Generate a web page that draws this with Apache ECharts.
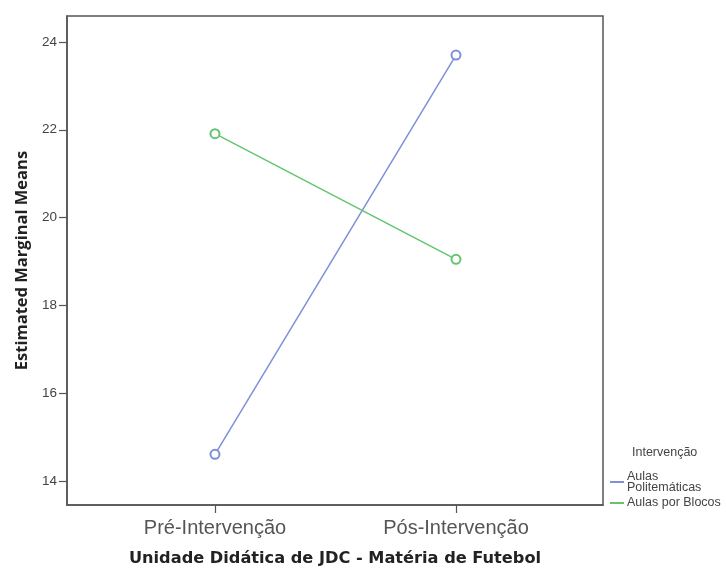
<!DOCTYPE html>
<html><head><meta charset="utf-8">
<script src="https://cdn.jsdelivr.net/npm/echarts@6/dist/echarts.min.js"></script>
<style>html,body{margin:0;padding:0;background:#fff}#c{width:726px;height:572px}</style>
</head><body><div id="c"></div>
<script>
var categories = ['Pré-Intervenção', 'Pós-Intervenção'];
var seriesNames = ['Aulas\nPolitemáticas', 'Aulas por Blocos'];
var politematicas = [14.61, 23.70];
var blocos = [21.91, 19.05];
var yTicks = [14, 16, 18, 20, 22, 24];

var chart = echarts.init(document.getElementById('c'), null, {renderer: 'canvas'});
var blue = '#7e90d8', green = '#62c66e';
function pts(arr){ return arr.map(function(v,i){ return [i, v]; }); }
chart.setOption({
  animation: false,
  backgroundColor: '#fff',
  grid: {left: 67, top: 16, right: 123, bottom: 65, show: true, borderColor: '#555', borderWidth: 1.5, containLabel: false},
  xAxis: {
    type: 'value', min: -0.614, max: 1.61,
    name: 'Unidade Didática de JDC - Matéria de Futebol', nameLocation: 'middle', nameGap: 46,
    nameTextStyle: {fontFamily: 'DejaVu Sans', fontWeight: 'bold', fontSize: 16.2, color: '#222'},
    splitLine: {show: false},
    axisLine: {show: true, onZero: false, lineStyle: {color: '#555', width: 1.5}},
    axisTick: {show: true, length: 8, lineStyle: {color: '#555', width: 1.2}, customValues: [0, 1]},
    axisLabel: {customValues: [0, 1], margin: 13, fontFamily: 'Liberation Sans', fontSize: 20, color: '#555',
      formatter: function(v){ return categories[Math.round(v)] || ''; }}
  },
  yAxis: {
    type: 'value', min: 13.456, max: 24.59,
    name: 'Estimated Marginal Means', nameLocation: 'middle', nameGap: 36, nameRotate: 90,
    nameTextStyle: {fontFamily: 'Open Sans', fontWeight: 'bold', fontSize: 16.5, color: '#222'},
    splitLine: {show: false},
    axisLine: {show: true, onZero: false, lineStyle: {color: '#555', width: 1.5}},
    axisTick: {show: true, length: 8, lineStyle: {color: '#555', width: 1.2}, customValues: yTicks},
    axisLabel: {customValues: yTicks, margin: 10, fontFamily: 'Liberation Sans', fontSize: 13.5, color: '#444'}
  },
  legend: {
    orient: 'vertical', left: 610, top: 470, itemWidth: 14, itemHeight: 2, itemGap: 2.5,
    icon: 'rect', padding: 0,
    textStyle: {fontFamily: 'Liberation Sans', fontSize: 12.5, color: '#444', lineHeight: 11, padding: [0,0,0,-2]},
    data: seriesNames
  },
  graphic: [{type: 'text', left: 632, top: 446, style: {text: 'Intervenção', font: '12.5px "Liberation Sans"', fill: '#444'}}],
  series: [
    {name: seriesNames[0], type: 'line', data: pts(politematicas), symbol: 'emptyCircle', symbolSize: 9,
      lineStyle: {color: blue, width: 1.5}, itemStyle: {color: blue, borderWidth: 1.3}},
    {name: seriesNames[1], type: 'line', data: pts(blocos), symbol: 'emptyCircle', symbolSize: 9,
      lineStyle: {color: green, width: 1.5}, itemStyle: {color: green, borderWidth: 1.3}}
  ]
});
</script></body></html>
